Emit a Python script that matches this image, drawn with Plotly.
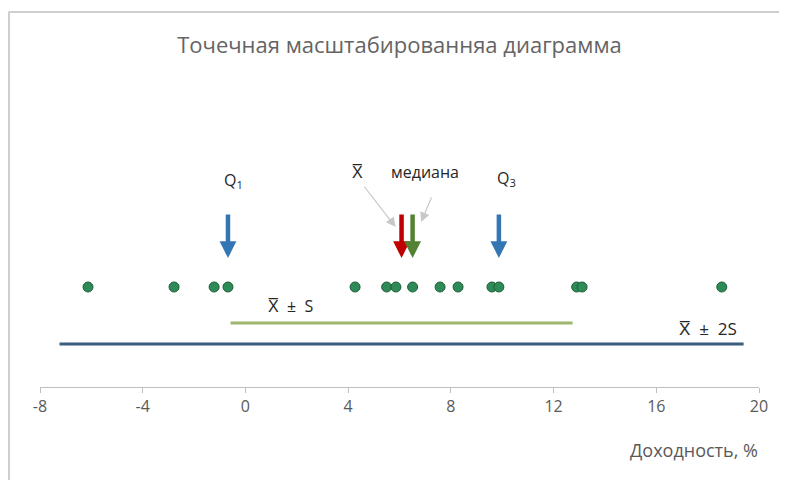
import plotly.graph_objects as go

# ---- data ----
returns = [-6.13, -2.78, -1.22, -0.68, 4.27, 5.50, 5.86, 6.51, 7.58, 8.28,
           9.60, 9.87, 12.90, 13.11, 18.55]
q1 = -0.68
mean_val = 6.08
median_val = 6.51
q3 = 9.87
std_val = 6.66
x_ticks = [-8, -4, 0, 4, 8, 12, 16, 20]
title_text = "Точечная масштабированняа диаграмма"
x_title = "Доходность, %"
XBAR = "X\u0305"

# vertical levels (layout only)
Y_PTS = 1.00
Y_S = 0.64
Y_2S = 0.43
Y_ARR_TAIL = 1.74
Y_ARR_TIP = 1.29

font_family = "Open Sans, Liberation Sans, sans-serif"

# page has an 8px body margin, so figure is drawn 8px right/down
W, H = 779, 472
OFF = 8
PL, PR = 40 - OFF, 759 - OFF       # plot area left/right in figure px
PT, PB = 60 - OFF, 387 - OFF       # plot area top/bottom in figure px
PW, PH = PR - PL, PB - PT

def px_x(p):  # page x -> paper
    return (p - OFF - PL) / PW

def px_y(p):  # page y -> paper
    return (PB - (p - OFF)) / PH

fig = go.Figure()

# mean ± S line
fig.add_trace(go.Scatter(
    x=[mean_val - std_val, mean_val + std_val], y=[Y_S, Y_S], mode="lines",
    line=dict(color="#9DB56C", width=3), hoverinfo="skip", showlegend=False))
# mean ± 2S line
fig.add_trace(go.Scatter(
    x=[mean_val - 2 * std_val, mean_val + 2 * std_val], y=[Y_2S, Y_2S], mode="lines",
    line=dict(color="#3B5E7C", width=3), hoverinfo="skip", showlegend=False))
# points
fig.add_trace(go.Scatter(
    x=returns, y=[Y_PTS] * len(returns), mode="markers",
    marker=dict(size=10, color="#2E8B57", line=dict(color="#1D5E3A", width=1)),
    showlegend=False))

annotations = []

def block_arrow(xv, color):
    annotations.append(dict(
        x=xv, y=Y_ARR_TIP, ax=xv, ay=Y_ARR_TAIL, xref="x", yref="y",
        axref="x", ayref="y", text="", showarrow=True,
        arrowhead=2, arrowsize=0.75, arrowwidth=4.5, arrowcolor=color))

block_arrow(q1, "#3476B4")
block_arrow(q3, "#3476B4")
block_arrow(mean_val, "#C00000")
block_arrow(median_val, "#548235")

# gray pointer arrows
annotations.append(dict(x=5.85, y=1.60, ax=4.58, ay=2.02, xref="x", yref="y",
                        axref="x", ayref="y", text="", showarrow=True,
                        arrowhead=2, arrowsize=1.6, arrowwidth=1.2,
                        arrowcolor="#C8C8C8"))
annotations.append(dict(x=6.84, y=1.65, ax=7.27, ay=1.91, xref="x", yref="y",
                        axref="x", ayref="y", text="", showarrow=True,
                        arrowhead=2, arrowsize=1.6, arrowwidth=1.2,
                        arrowcolor="#C8C8C8"))

label_font = dict(family=font_family, size=16, color="#262626")

def label(xv, yv, txt, size=16):
    annotations.append(dict(x=xv, y=yv, xref="x", yref="y", text=txt,
                            showarrow=False,
                            font=dict(family=font_family, size=size, color="#262626"),
                            xanchor="center", yanchor="middle"))

label(-0.48, 2.07, "Q<sub>1</sub>")
label(4.38, 2.15, XBAR)
label(6.99, 2.15, "медиана")
label(10.15, 2.09, "Q<sub>3</sub>")
label(1.74, 0.81, XBAR + "  ±  S")
label(18.0, 0.59, XBAR + "  ±  2S", size=17)

# x-axis title at right
annotations.append(dict(x=px_x(760), y=px_y(450), xref="paper", yref="paper",
                        text=x_title, showarrow=False, xanchor="right",
                        yanchor="middle",
                        font=dict(family=font_family, size=18, color="#595959")))

# frame lines (top and left)
shapes = [
    dict(type="line", xref="paper", yref="paper",
         x0=px_x(8.5), x1=px_x(800),
         y0=px_y(12), y1=px_y(12),
         line=dict(color="#CFCFCF", width=2)),
    dict(type="line", xref="paper", yref="paper",
         x0=px_x(9), x1=px_x(9),
         y0=px_y(12), y1=px_y(490),
         line=dict(color="#CFCFCF", width=2)),
]

fig.update_layout(
    width=W, height=H,
    margin=dict(l=PL, r=W - PR, t=PT, b=H - PB),
    plot_bgcolor="white", paper_bgcolor="white",
    title=dict(text=title_text, x=0.5, xref="paper", xanchor="center",
               y=1 - (45 - OFF) / H, yanchor="middle",
               font=dict(family=font_family, size=22, color="#646464")),
    xaxis=dict(range=[-8, 20], tickvals=x_ticks,
               ticktext=[str(t) for t in x_ticks],
               showgrid=False, zeroline=False, showline=True,
               linecolor="#BFBFBF", linewidth=1,
               ticks="outside", ticklen=5, tickcolor="#BFBFBF",
               tickfont=dict(family=font_family, size=16, color="#595959"),
               fixedrange=True),
    yaxis=dict(range=[0, 3.27], visible=False, fixedrange=True),
    annotations=annotations, shapes=shapes,
    showlegend=False,
)

fig.write_html("out.html")
